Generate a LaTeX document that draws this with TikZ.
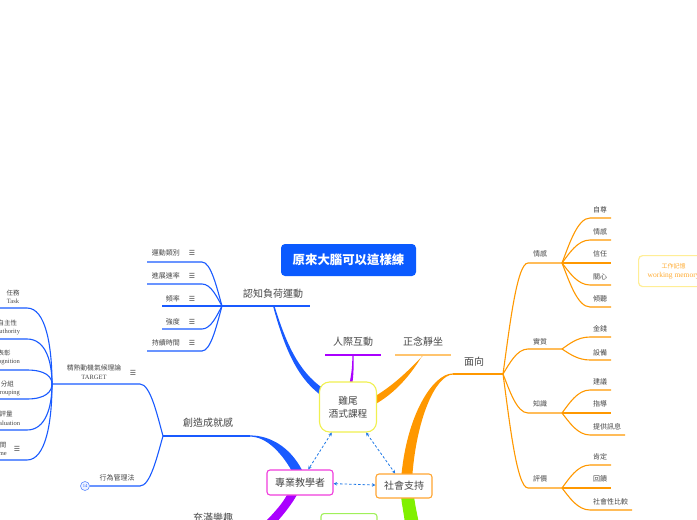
\documentclass[tikz,border=0pt]{standalone}
\usepackage{fontspec}
\usetikzlibrary{arrows.meta}
\newfontfamily\cjk{Noto Sans CJK TC}
\newfontfamily\lserif{Liberation Serif}
\newfontfamily\symf{DejaVu Sans}
\definecolor{mblue}{RGB}{25,90,255}
\definecolor{morange}{RGB}{255,152,0}
\definecolor{lorange}{RGB}{255,196,110}
\definecolor{mpurple}{RGB}{170,0,255}
\definecolor{mlime}{RGB}{128,240,0}
\definecolor{txt}{RGB}{70,70,70}
\definecolor{dblue}{RGB}{30,120,230}
\definecolor{magb}{RGB}{240,60,220}
\definecolor{yelb}{RGB}{240,240,80}
\definecolor{orgb}{RGB}{255,165,50}
\definecolor{grnb}{RGB}{160,240,90}
\definecolor{wmb}{RGB}{255,238,150}
\definecolor{wmt}{RGB}{255,172,50}
\definecolor{titleblue}{RGB}{10,90,255}
\newcommand\mmfa{0.25}
\newcommand\mmfb{0.4}
\newcommand\mmfc{0.55}
\newcommand\mmlink[6]{%
 \pgfmathsetmacro\mmxa{#2+\mmfa*(#4-#2)}%
 \pgfmathsetmacro\mmya{#3+\mmfb*(#5-#3)}%
 \pgfmathsetmacro\mmxb{#2+\mmfc*(#4-#2)}%
 \draw[#1] (#2,#3) .. controls (\mmxa,\mmya) and (\mmxb,#5) .. (#4,#5) -- (#6,#5);}
\tikzset{
 lbl/.style={font=\cjk\fontsize{7}{8}\selectfont,text=txt,inner sep=0pt},
 mlbl/.style={font=\cjk\fontsize{10}{12}\selectfont,text=txt,inner sep=0pt},
 duo/.style={align=center,inner sep=0pt,text=txt,font=\cjk\fontsize{6.5}{8.5}\selectfont},
 ico/.style={font=\symf\fontsize{7}{8}\selectfont,text=txt,inner sep=0pt},
 bl/.style={draw=mblue,line width=1.1pt},
 ol/.style={draw=morange,line width=1.1pt},
 dasharrow/.style={draw=dblue,line width=0.8pt,dash pattern=on 2.5pt off 2pt,{Stealth[length=3.5pt,width=3.5pt]}-{Stealth[length=3.5pt,width=3.5pt]}},
 box/.style={draw,fill=white,line width=1.1pt,rounded corners=3pt,inner sep=0pt,font=\cjk\fontsize{10}{12}\selectfont,text=txt},
}
\begin{document}
\begin{tikzpicture}[x=1pt,y=-1pt]
\useasboundingbox (0,0) rectangle (697,520);
% thick tapered branches
\fill[mblue] (273,306) .. controls (285,350) and (298,380) .. (324.1,397.5) -- (327.9,391.5) .. controls (302,376) and (288,350) .. (274.5,306) -- cycle;
\fill[mpurple] (352.3,355) .. controls (352.5,368) and (351,376) .. (349,386) -- (352,386) .. controls (353.5,376) and (353.8,368) .. (353.7,355) -- cycle;
\fill[morange] (422.6,355) .. controls (412,373) and (396,393) .. (373.6,405.1) -- (370.4,398.9) .. controls (392,387) and (408,371) .. (423.6,355) -- cycle;
\fill[morange] (453,373.4) .. controls (433,373.4) and (406,415) .. (401,480) -- (412,480) .. controls (416,418) and (436,374.6) .. (453,374.6) -- cycle;
\fill[mlime] (401,496) .. controls (402,506) and (404,514) .. (405,524) -- (419,524) .. controls (417,513) and (415,505) .. (414,496) -- cycle;
\fill[mblue] (250,435.4) .. controls (270,435.4) and (290,447) .. (302,470) -- (294,475) .. controls (283,454) and (267,436.6) .. (250,436.6) -- cycle;
\fill[mpurple] (288,493) .. controls (283,503) and (275,512) .. (263,524) -- (275,524) .. controls (284,514) and (292,504) .. (298,493) -- cycle;
% main underlines
\draw[bl] (162,306) -- (310,306);
\draw[draw=mpurple,line width=1.2pt] (325,355) -- (381,355);
\draw[draw=lorange,line width=1.2pt] (395,355) -- (451,355);
\draw[ol] (453,374) -- (503,374);
\draw[bl] (163,436) -- (250,436);
% child links
\foreach \y/\e in {262/147,284/147,329/162,351/147} {\mmlink{bl}{222}{306}{202}{\y}{\e}}
\mmlink{bl}{163}{436}{140}{384}{52}
\mmlink{bl}{163}{436}{140}{486}{90}
\foreach \y in {263,349,413,488} {\mmlink{ol}{503}{374}{528}{\y}{562}}
\foreach \s/\y/\e in {263/218/611,263/240/611,263/285/611,263/307/611,349/337/611,349/360/611,413/390/611,413/435/625,488/465/611,488/510/632} {\mmlink{ol}{562}{\s}{590}{\y}{\e}}
\foreach \y in {263,413,488} {\draw[ol] (562,\y) -- (611,\y);}
\renewcommand\mmfa{0}\renewcommand\mmfb{0.5}\renewcommand\mmfc{0.25}
\foreach \y in {308,339,370,399,430,460} {\mmlink{bl}{52}{384}{27}{\y}{-5}}
% boxes
\node[fill=titleblue,rounded corners=4pt,minimum width=135,minimum height=32,text=white,font=\cjk\bfseries\fontsize{12.4}{14}\selectfont,inner sep=0pt] (title) at (348.5,260) {原來大腦可以這樣練};
\node[box,draw=yelb,minimum width=57,minimum height=50,rounded corners=10pt,align=center,font=\cjk\fontsize{9.7}{13}\selectfont] (core) at (348,407) {雞尾\\酒式課程};
\node[box,draw=magb,minimum width=66,minimum height=25] (pro) at (300,482.5) {專業教學者};
\node[box,draw=orgb,minimum width=56,minimum height=24] (soc) at (404,486) {社會支持};
\node[box,draw=grnb,minimum width=56,minimum height=24,anchor=north] (grn) at (349,513) {};
\node[draw=wmb,fill=white,line width=1.2pt,rounded corners=4pt,minimum width=70,minimum height=31,anchor=north west,inner sep=0pt,align=center,text=wmt,font=\cjk\fontsize{6}{9}\selectfont] (wm) at (638,255) {工作記憶\\{\lserif\fontsize{7.5}{9}\selectfont working memory}};
% dashed relations
\draw[dasharrow] (core) -- (pro);
\draw[dasharrow] (core) -- (soc);
\draw[dasharrow] (pro) -- (soc);
% main labels
\node[mlbl] (cog) at (273,294) {認知負荷運動};
\node[mlbl] (inter) at (353,342) {人際互動};
\node[mlbl] (mind) at (423,342) {正念靜坐};
\node[mlbl] (face) at (474,362) {面向};
\node[mlbl] (ach) at (208,423) {創造成就感};
\node[mlbl] (fun) at (213,518) {充滿樂趣};
% cognitive children
\node[lbl,anchor=east] (c1) at (180,253) {運動類別};
\node[lbl,anchor=east] (c2) at (180,276) {進展速率};
\node[lbl,anchor=east] (c3) at (180,299) {頻率};
\node[lbl,anchor=east] (c4) at (180,322) {強度};
\node[lbl,anchor=east] (c5) at (180,343) {持續時間};
\foreach \y in {253,276,299,322,343} {\node[ico] at (192,\y) {☰};}
% achievement children
\node[duo,font=\cjk\fontsize{6.8}{9}\selectfont] (tgt) at (94,372.5) {精熟動機氣候理論\\{\lserif\fontsize{6.5}{9}\selectfont TARGET}};
\node[ico] (tgti) at (133,373) {☰};
\node[lbl] (beh) at (117,478) {行為管理法};
\node[circle,draw=mblue!70,fill=mblue!8,line width=0.6pt,minimum size=9pt,inner sep=0pt,font=\lserif\fontsize{4.5}{5}\selectfont,text=mblue] (c14) at (85,486) {14};
% TARGET children
\node[duo] (t1) at (13,297) {任務\\{\lserif\fontsize{6.5}{8.5}\selectfont Task}};
\node[duo] (t2) at (7.4,327.5) {自主性\\{\lserif\fontsize{6.5}{8.5}\selectfont Authority}};
\node[duo] (t3) at (4,357.5) {表彰\\{\lserif\fontsize{6.5}{8.5}\selectfont Recognition}};
\node[duo] (t4) at (7.5,388.5) {分組\\{\lserif\fontsize{6.5}{8.5}\selectfont Grouping}};
\node[duo] (t5) at (6,418.5) {評量\\{\lserif\fontsize{6.5}{8.5}\selectfont Evaluation}};
\node[duo] (t6) at (0,449) {時間\\{\lserif\fontsize{6.5}{8.5}\selectfont Time}};
\node[ico] (t6i) at (17,449) {☰};
% face children
\node[lbl] (f1) at (540,254) {情感};
\node[lbl] (f2) at (540,342) {實質};
\node[lbl] (f3) at (540,404) {知識};
\node[lbl] (f4) at (540,479) {評價};
\node[lbl,anchor=west] (g1) at (593,210) {自尊};
\node[lbl,anchor=west] (g2) at (593,232) {情感};
\node[lbl,anchor=west] (g3) at (593,254) {信任};
\node[lbl,anchor=west] (g4) at (593,277) {關心};
\node[lbl,anchor=west] (g5) at (593,299) {傾聽};
\node[lbl,anchor=west] (g6) at (593,329) {金錢};
\node[lbl,anchor=west] (g7) at (593,353) {設備};
\node[lbl,anchor=west] (g8) at (593,382) {建議};
\node[lbl,anchor=west] (g9) at (593,404) {指導};
\node[lbl,anchor=west] (g10) at (593,427) {提供訊息};
\node[lbl,anchor=west] (g11) at (593,457) {肯定};
\node[lbl,anchor=west] (g12) at (593,479) {回饋};
\node[lbl,anchor=west] (g13) at (593,502) {社會性比較};
\end{tikzpicture}
\end{document}
